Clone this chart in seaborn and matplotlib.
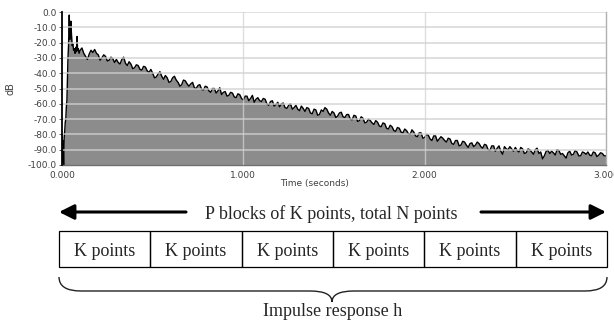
import matplotlib
matplotlib.use('agg')

import numpy as np
import matplotlib.pyplot as plt
from matplotlib.path import Path
from matplotlib.patches import PathPatch, Rectangle
import seaborn as sns

# onset of the impulse response (seconds, dB)
t_head = [0.000, 0.003, 0.006, 0.009, 0.012, 0.015, 0.018, 0.021, 0.024, 0.027,
          0.030, 0.033, 0.036, 0.040, 0.043, 0.046, 0.049, 0.052, 0.056, 0.060,
          0.064, 0.068, 0.072, 0.076, 0.080, 0.083, 0.086, 0.090, 0.094]
db_head = [-80, -98, -84, -100, -82, -78, -72, -70, -62, -58,
           -45, -30, -22, -2, -18, -10, -6, -14, -22, -21,
           -25, -24, -27, -23, -26, -16, -25, -24, -27]

# decay, sampled every 10 ms from 0.10 s
tail_start, tail_step = 0.10, 0.01
db_tail = [
    -25, -23.5, -27, -29, -31, -27.5, -25, -26.5, -24.5, -27,
    -28, -31.5, -30, -28, -29, -32, -31.5, -29.5, -30.5, -33,
    -31, -33, -34, -31, -29.5, -33.5, -35, -32.5, -34, -37,
    -36.5, -34.5, -35, -37.5, -38, -35.5, -36, -38.5, -39.5, -37.5,
    -40, -43, -42.5, -40.5, -39, -42, -44, -41.5, -43, -46,
    -45.5, -43, -42, -44.5, -46, -48.5, -47.5, -44.5, -45, -47,
    -48.5, -47, -46, -49.5, -50, -48, -47.5, -50.5, -51, -48.5,
    -49, -51.5, -52.5, -50, -50, -53, -51.5, -49.5, -54, -52.5,
    -52, -55, -54.5, -52.5, -53, -55.5, -56, -53.5, -54, -56.5,
    -57.5, -55, -55, -58, -56.5, -54.5, -59, -57, -56, -58,
    -58.5, -56.5, -57, -60, -61, -58.5, -58, -61.5, -60.5, -59,
    -62, -60, -59.5, -62.5, -63, -61, -60, -63.5, -62.5, -61,
    -63.5, -64.5, -61.5, -63, -65, -62.5, -63, -66, -66.5, -63.5,
    -64, -67.5, -67, -64, -65, -62.5, -63.5, -66, -67.5, -65,
    -66, -69, -68, -66, -65.5, -68.5, -69, -67, -67, -70,
    -70.5, -67.5, -68, -71.5, -71, -68.5, -69.5, -72.5, -72, -70,
    -71, -72.5, -73.5, -71, -72, -74.5, -75, -72.5, -73, -76,
    -76.5, -74, -75, -77.5, -78, -75.5, -76, -78.5, -79, -76.5,
    -77.5, -79.5, -80, -77, -78.5, -81, -81.5, -79, -79, -82.5,
    -82, -80, -80.5, -83, -84, -81, -81, -84.5, -83, -81.5,
    -82.5, -84, -85, -82.5, -83, -86, -86.5, -84, -84, -87.5,
    -87, -84.5, -85, -87, -88.5, -86, -85.5, -88, -87, -85,
    -86, -88, -89, -86.5, -87, -90, -90.5, -87.5, -87.5, -91,
    -89, -87.5, -91, -93, -88, -89.5, -90, -88, -89.5, -91,
    -88.5, -90.5, -91.5, -88.5, -89.5, -92.5, -92, -89.5, -90, -91.5,
    -93, -90, -89, -92.5, -91.5, -96, -94, -91, -90.5, -92.5,
    -91, -92, -93.5, -90, -90.5, -93, -92.5, -94, -95.5, -92,
    -91, -93.5, -93, -90.5, -91.5, -94, -94, -91.5, -92, -93,
    -91.5, -93.5, -94, -91.5, -92, -94.5, -93.5, -92, -92.5, -94,
    -94,
]

y_ticks = list(range(-100, 1, 10))
x_ticks = [0, 1, 2, 3]
n_blocks = 6
block_label = "K points"
top_label = "P blocks of K points, total N points"
bottom_label = "Impulse response h"

t = np.array(t_head + list(tail_start + tail_step * np.arange(len(db_tail))))
db = np.array(db_head + db_tail, dtype=float)

sns.set_style("white")
plt.rcParams['font.family'] = ['DejaVu Sans']

fig = plt.figure(figsize=(6.14, 3.30), dpi=100)
W, H = 614, 330
ax = fig.add_axes([62 / W, 1 - 165 / H, 544 / W, 153 / H])

ax.fill_between(t, db, -100, color='#8c8c8c', lw=0, zorder=1)
sns.lineplot(x=t, y=db, ax=ax, color='black', lw=1.0, zorder=2)

ax.set_xlim(0, 3)
ax.set_ylim(-100, 0)
ax.set_yticks(y_ticks)
ax.set_yticklabels([f"{v:.1f}" for v in y_ticks])
ax.set_xticks(x_ticks)
ax.set_xticklabels([f"{v:.3f}" for v in x_ticks])
ax.tick_params(labelsize=6.5, colors='#404040', length=2.5, width=0.6, pad=1.5,
               left=True, bottom=False)

for v in y_ticks[1:]:
    ax.axhline(v, color=(0.815, 0.815, 0.815), alpha=0.75, lw=1.3, zorder=3)
for v in x_ticks[1:3]:
    ax.axvline(v, color=(0.83, 0.83, 0.83), alpha=0.75, lw=1.0, zorder=3)

ax.spines['top'].set_visible(False)
ax.spines['left'].set_color('black')
ax.spines['left'].set_linewidth(1.3)
ax.spines['bottom'].set_color('#707070')
ax.spines['bottom'].set_linewidth(1.0)
ax.spines['right'].set_color('#b0b0b0')
ax.spines['right'].set_linewidth(1.0)
ax.spines['left'].set_zorder(4)

ax.set_xlabel("Time (seconds)", fontsize=6.5, color='#404040')
ax.xaxis.set_label_coords(0.465, -0.092)
ax.set_ylabel("dB", fontsize=7, color='#404040')
ax.yaxis.set_label_coords(-0.085, 0.5)

# schematic below the plot, in pixel coordinates
ov = fig.add_axes([0, 0, 1, 1])
ov.set_xlim(0, W)
ov.set_ylim(H, 0)
ov.axis('off')
ov.patch.set_alpha(0)

serif = ['Liberation Serif', 'DejaVu Serif']
left, right = 59, 607
ov.text((203 + 460) / 2, 219, top_label, family=serif, fontsize=13,
        ha='center', va='baseline')
arrow = dict(arrowstyle='-|>,head_length=0.9,head_width=0.45', color='black',
             lw=2.2, shrinkA=0, shrinkB=0)
ov.annotate('', xy=(left, 212), xytext=(186, 212), arrowprops=arrow)
ov.annotate('', xy=(right - 1, 212), xytext=(481, 212), arrowprops=arrow)

cell = (right - left) / n_blocks
for i in range(n_blocks):
    x0 = left + i * cell
    ov.add_patch(Rectangle((x0, 231), cell, 36, fill=False, ec='black', lw=0.9))
    ov.text(x0 + cell / 2, 256, block_label, family=serif, fontsize=13,
            ha='center', va='baseline')

mid = (left + right) / 2 - 1
verts = [(left, 277), (left, 291), (left + 22, 291),
         (mid - 22, 291),
         (mid, 291), (mid, 302),
         (mid, 291), (mid + 22, 291),
         (right - 22, 291),
         (right, 291), (right, 277)]
codes = [Path.MOVETO, Path.CURVE3, Path.CURVE3,
         Path.LINETO,
         Path.CURVE3, Path.CURVE3,
         Path.CURVE3, Path.CURVE3,
         Path.LINETO,
         Path.CURVE3, Path.CURVE3]
ov.add_patch(PathPatch(Path(verts, codes), fill=False, ec='#222222', lw=1.0))
ov.text(mid + 1, 316, bottom_label, family=serif, fontsize=13,
        ha='center', va='baseline')

fig.savefig('out.png', dpi=100)
